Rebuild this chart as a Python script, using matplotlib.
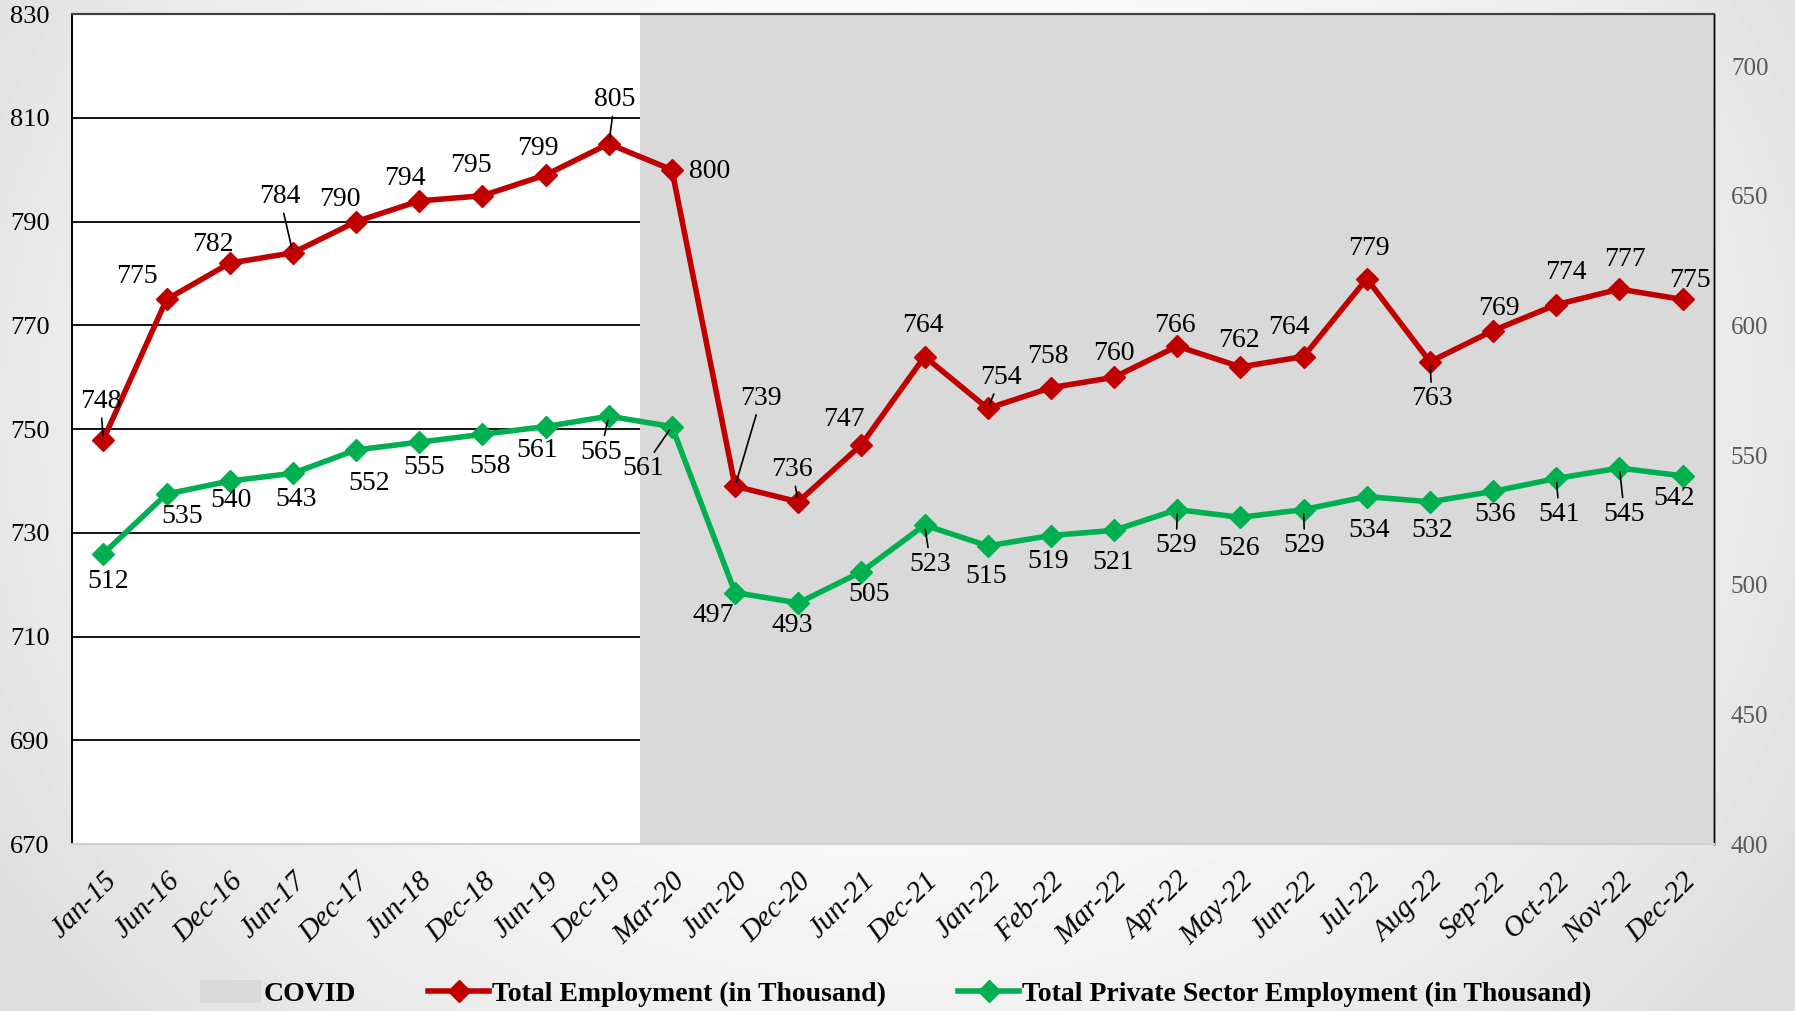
import matplotlib
matplotlib.use("Agg")
import matplotlib.pyplot as plt
import numpy as np
from matplotlib.lines import Line2D
from matplotlib.patches import Patch

plt.rcParams["font.family"] = ["Liberation Serif", "DejaVu Serif"]

# ---------------------------------------------------------------------------
# Data
# ---------------------------------------------------------------------------
periods = ["Jan-15", "Jun-16", "Dec-16", "Jun-17", "Dec-17", "Jun-18", "Dec-18",
           "Jun-19", "Dec-19", "Mar-20", "Jun-20", "Dec-20", "Jun-21", "Dec-21",
           "Jan-22", "Feb-22", "Mar-22", "Apr-22", "May-22", "Jun-22", "Jul-22",
           "Aug-22", "Sep-22", "Oct-22", "Nov-22", "Dec-22"]
total_emp = [748, 775, 782, 784, 790, 794, 795, 799, 805, 800, 739, 736, 747,
             764, 754, 758, 760, 766, 762, 764, 779, 763, 769, 774, 777, 775]
private_emp = [512, 535, 540, 543, 552, 555, 558, 561, 565, 561, 497, 493, 505,
               523, 515, 519, 521, 529, 526, 529, 534, 532, 536, 541, 545, 542]
covid_start = "Mar-20"

# label placement (pixel offsets from each marker, y down) and leader flags
red_off = [(-3, -38), (-30, -23), (-17, -19), (-13, -56), (-16, -22), (-14, -22),
           (-11, -30), (-8, -26), (6, -44), (38, 2), (26, -88), (-6, -32),
           (-18, -25), (-2, -31), (13, -31), (-3, -31), (0, -24), (-2, -21),
           (-2, -26), (-15, -29), (2, -30), (2, 37), (6, -22), (10, -32),
           (5, -30), (7, -19)]
red_lead = {0, 3, 8, 10, 11, 14, 21}
green_off = [(5, 28), (16, 22), (1, 19), (3, 26), (13, 34), (5, 25), (8, 32),
             (-8, 24), (-8, 36), (-29, 42), (-22, 23), (-6, 23), (8, 23),
             (6, 39), (-2, 31), (-3, 26), (-1, 32), (-1, 36), (-1, 31), (1, 36),
             (2, 34), (2, 29), (2, 23), (3, 36), (5, 46), (-9, 23)]
green_lead = {8, 9, 13, 17, 19, 23, 24}

RED = "#C00000"
GREEN = "#00B050"
COVID_GRAY = "#D9D9D9"

fig = plt.figure(figsize=(17.95, 10.11), dpi=100)

# soft background, slightly darker towards the edges
bg = fig.add_axes([0, 0, 1, 1], zorder=-10)
yy, xx = np.mgrid[-1:1:300j, -1:1:500j]
grad = 1 - 0.11 * np.clip(xx ** 2 * 0.85 + (yy + 0.2) ** 2 * 0.35, 0, 1.2)
bg.imshow(grad, cmap="gray", vmin=0, vmax=1, aspect="auto", extent=[0, 1, 0, 1])
bg.axis("off")

ax = fig.add_axes([0.040, 0.165, 0.915, 0.821])
ax2 = ax.twinx()
ax.set_facecolor("white")
ax2.patch.set_visible(False)

x = np.arange(len(periods))
ax.set_xlim(-0.5, len(periods) - 0.5)
ax.set_ylim(670, 830)
ax2.set_ylim(400, 720)

ax.set_yticks(np.arange(670, 831, 20))
ax2.set_yticks(np.arange(400, 701, 50))
ax.yaxis.grid(True, color="black", lw=1.3)
ax.set_axisbelow(True)

ax.axvspan(periods.index(covid_start) - 0.5, len(periods) - 0.5,
           color=COVID_GRAY, lw=0, zorder=1)

ax.plot(x, total_emp, color=RED, lw=4, marker="D", ms=11, zorder=3)
ax2.plot(x, private_emp, color=GREEN, lw=4, marker="D", ms=11, zorder=3)

lab_kw = dict(textcoords="offset pixels", ha="center", va="center",
              fontsize=20, color="black", zorder=5)
for i, v in enumerate(total_emp):
    dx, dy = red_off[i]
    arrow = dict(arrowstyle="-", color="black", lw=1.2, shrinkA=1, shrinkB=3) \
        if i in red_lead else None
    ax.annotate(f"{v}", (x[i], v), xytext=(dx, -dy), arrowprops=arrow, **lab_kw)
for i, v in enumerate(private_emp):
    dx, dy = green_off[i]
    arrow = dict(arrowstyle="-", color="black", lw=1.2, shrinkA=1, shrinkB=3) \
        if i in green_lead else None
    ax2.annotate(f"{v}", (x[i], v), xytext=(dx, -dy), arrowprops=arrow, **lab_kw)

# axes styling
ax.set_xticks(x)
ax.set_xticklabels(periods, rotation=45, ha="right", rotation_mode="anchor",
                   fontsize=21, style="italic")
ax.tick_params(axis="x", length=0, pad=17)
ax.tick_params(axis="y", length=0, pad=16, labelsize=19)
ax2.tick_params(axis="y", length=0, pad=12, labelsize=18, labelcolor="#595959")

for a in (ax, ax2):
    a.spines["left"].set_color("black")
    a.spines["left"].set_linewidth(1.2)
    a.spines["right"].set_color("black")
    a.spines["right"].set_linewidth(1.0)
    a.spines["top"].set_color("#404040")
    a.spines["top"].set_linewidth(1.5)
    a.spines["bottom"].set_color("#D0D0D0")
    a.spines["bottom"].set_linewidth(1.5)

handles = [
    Patch(facecolor=COVID_GRAY, edgecolor="none", label="COVID"),
    Line2D([], [], color=RED, lw=4, marker="D", ms=11,
           label="Total Employment (in Thousand)"),
    Line2D([], [], color=GREEN, lw=4, marker="D", ms=11,
           label="Total Private Sector Employment (in Thousand)"),
]
fig.legend(handles=handles, loc="center", bbox_to_anchor=(0.499, 0.017),
           ncol=3, frameon=False, handlelength=2.2, handleheight=0.9,
           handletextpad=0.1, columnspacing=2.6,
           prop=dict(weight="bold", size=20))

fig.savefig("out.png", dpi=100)
